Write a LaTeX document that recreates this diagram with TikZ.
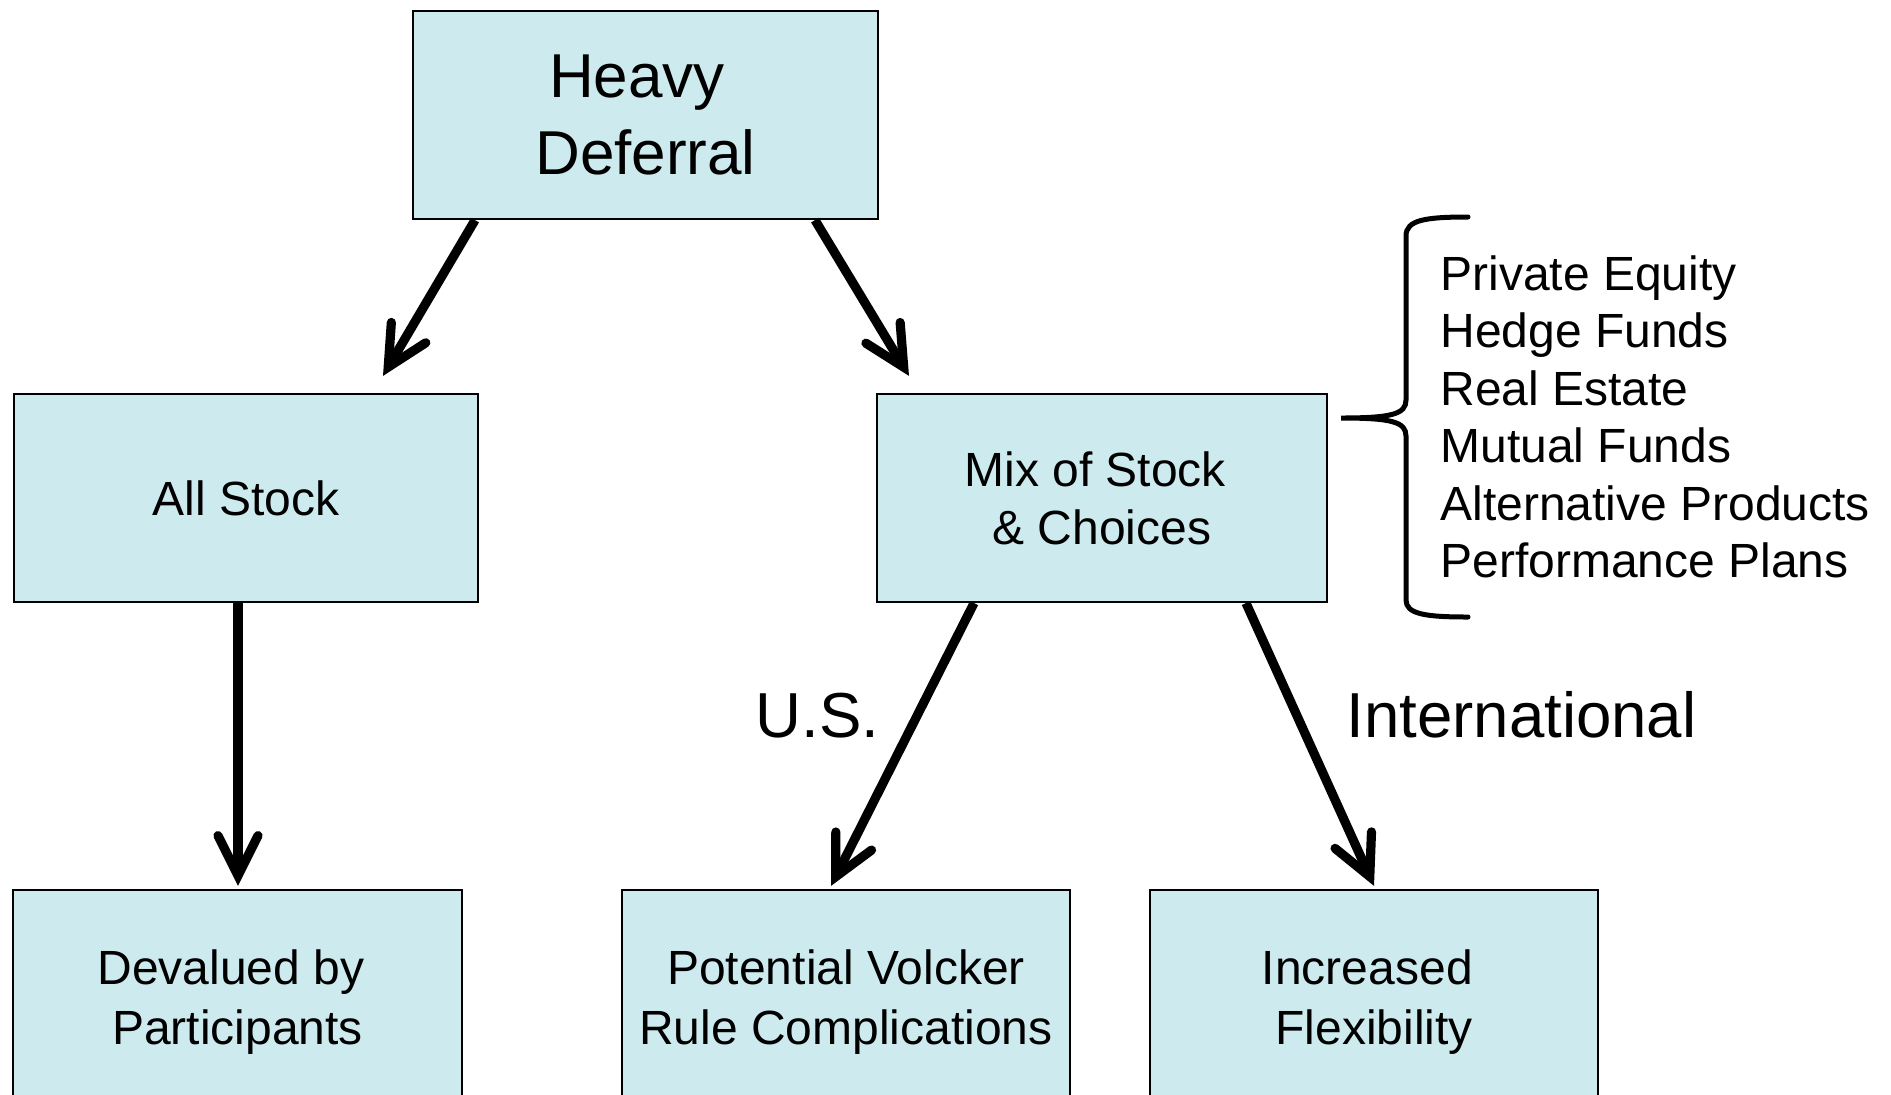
\documentclass[tikz,border=0pt]{standalone}
\usepackage{fontspec}
\setmainfont{Liberation Sans}
\usetikzlibrary{arrows.meta}
\definecolor{boxfill}{RGB}{205,235,238}
\begin{document}
\begin{tikzpicture}[x=0.5pt,y=-0.5pt,
  box/.style={draw=black,line width=1.1pt,fill=boxfill,inner sep=0pt,align=center,minimum height=104pt},
  boxtext/.style={font=\fontsize{24}{29}\selectfont},
  bottext/.style={font=\fontsize{24}{30}\selectfont},
  arr/.style={line width=4.6pt,-{Straight Barb[length=20pt,width=20pt,line cap=round,line join=miter]}},
  lbl/.style={inner sep=0pt,anchor=base west,font=\fontsize{31.8}{38}\selectfont},
  item/.style={inner sep=0pt,anchor=base west,font=\fontsize{24}{29}\selectfont},
  bracepath/.style={line width=2.5pt,line cap=round}]
\useasboundingbox (0,0) rectangle (1891,1094);
\clip (0,0) rectangle (1891,1094);
% boxes
\node[box,minimum width=232.5pt,font=\fontsize{31}{38.5}\selectfont] (HD) at (645.5,115) {Heavy\hspace*{0.278em}\\Deferral};
\node[box,boxtext,minimum width=232pt] (AS) at (246,498) {All Stock};
\node[box,boxtext,minimum width=225pt] (MX) at (1102,498) {Mix of Stock\hspace*{0.278em}\\\& Choices};
\node[box,bottext,minimum width=224.5pt,minimum height=112pt] (DV) at (237.5,1002) {Devalued by\hspace*{0.278em}\\Participants};
\node[box,bottext,minimum width=224pt,minimum height=112pt] (PV) at (846,1002) {Potential Volcker\\Rule Complications};
\node[box,bottext,minimum width=224pt,minimum height=112pt] (IF) at (1374,1002) {Increased\hspace*{0.278em}\\Flexibility};
% connectors
\draw[arr] ([xshift=-85.25pt]HD.south) -- ([xshift=68.5pt,yshift=8.5pt]AS.north);
\draw[arr] ([xshift=84.75pt]HD.south) -- ([xshift=-96.5pt,yshift=8.5pt]MX.north);
\draw[arr] ([xshift=-4pt]AS.south) -- ([xshift=0.25pt,yshift=1.5pt]DV.north);
\draw[arr] ([xshift=-64pt]MX.south) -- ([xshift=-7.5pt,yshift=1.5pt]PV.north);
\draw[arr] ([xshift=72pt]MX.south) -- ([yshift=1.5pt]IF.north);
% labels
\node[lbl] (us) at (755,737) {U.S.};
\node[lbl] (intl) at (1346,737) {International};
% brace
\draw[bracepath] (1468,217) .. controls (1425,217) and (1406,220) .. (1406,236)
  -- (1406,400) .. controls (1406,414) and (1392,418) .. (1341,418)
  .. controls (1392,418) and (1406,422) .. (1406,436)
  -- (1406,600) .. controls (1406,614) and (1425,617) .. (1468,617);
% list
\node[item] (l1) at (1440,290) {Private Equity};
\node[item] (l2) at (1440,347.5) {Hedge Funds};
\node[item] (l3) at (1440,405) {Real Estate};
\node[item] (l4) at (1440,462.5) {Mutual Funds};
\node[item] (l5) at (1440,520) {Alternative Products};
\node[item] (l6) at (1440,577.5) {Performance Plans};
\end{tikzpicture}
\end{document}
